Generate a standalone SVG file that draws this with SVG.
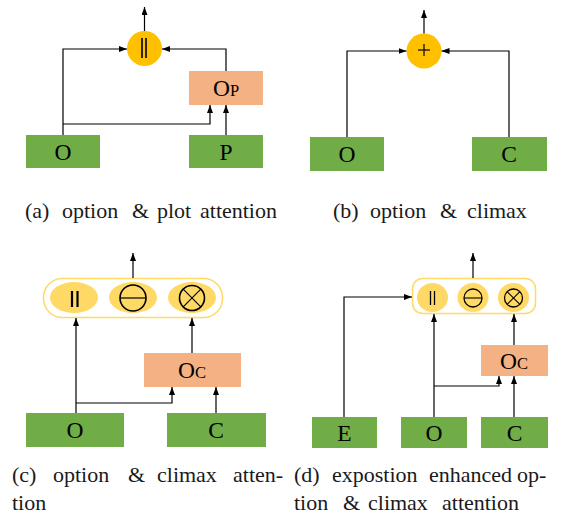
<svg xmlns="http://www.w3.org/2000/svg" width="563" height="514" viewBox="0 0 563 514">
<style>
.g{fill:#70AD47}
.o{fill:#F4B183}
.c{fill:#FFC000}
.e{fill:#FFD966}
.frame{fill:#fff;stroke:#FFD966;stroke-width:1.5}
.lbl{font-family:"Liberation Serif","Times New Roman",serif;font-size:23.5px;fill:#000;text-anchor:middle}
.sub{font-size:16.5px}
.cap{font-family:"Liberation Serif","Times New Roman",serif;font-size:22px;fill:#1a1a1a}
.ln{fill:none;stroke:#000;stroke-width:1.2}
.sym{fill:none;stroke:#000;stroke-width:1.6}
.bar{stroke:#000;stroke-width:2.2}
</style>
<defs>
<marker id="ah" viewBox="0 0 8 6" refX="8" refY="3" markerWidth="8" markerHeight="6" orient="auto" markerUnits="userSpaceOnUse">
<path d="M0,0 L8,3 L0,6 z" fill="#000"/>
</marker>
</defs>

<!-- Panel (a) -->
<g id="a-concat"><circle class="c" cx="144.5" cy="48.5" r="17.5"/><line class="bar" x1="142" y1="38" x2="142" y2="58" style="stroke-width:1.6"/><line class="bar" x1="146" y1="38" x2="146" y2="58" style="stroke-width:1.6"/></g>
<g id="a-Op"><rect class="o" x="189" y="71" width="74" height="34"/><text class="lbl" x="226" y="96">O<tspan class="sub">P</tspan></text></g>
<g id="a-O"><rect class="g" x="26" y="135" width="74" height="33"/><text class="lbl" x="63" y="160">O</text></g>
<g id="a-P"><rect class="g" x="189" y="135" width="74" height="33"/><text class="lbl" x="226" y="160">P</text></g>

<!-- Panel (b) -->
<g id="b-plus"><circle class="c" cx="424" cy="51" r="17.5"/><line class="sym" x1="418" y1="50" x2="430" y2="50" style="stroke-width:1.2"/><line class="sym" x1="424" y1="44" x2="424" y2="56" style="stroke-width:1.2"/></g>
<g id="b-O"><rect class="g" x="310" y="137" width="74" height="34"/><text class="lbl" x="347" y="162">O</text></g>
<g id="b-C"><rect class="g" x="472" y="137" width="75" height="34"/><text class="lbl" x="509" y="162">C</text></g>

<!-- Panel (c) -->
<g id="c-ops">
<rect class="frame" x="43.5" y="278.5" width="179" height="39" rx="19"/>
<ellipse class="e" cx="74" cy="297.5" rx="24" ry="15.5"/>
<line class="bar" x1="72" y1="291" x2="72" y2="307"/><line class="bar" x1="77.5" y1="291" x2="77.5" y2="307"/>
<ellipse class="e" cx="133" cy="297.5" rx="24" ry="15.5"/>
<circle class="sym" cx="133" cy="298" r="13"/><line class="sym" x1="120" y1="298" x2="146" y2="298" style="stroke-width:1.2"/>
<ellipse class="e" cx="192" cy="297.5" rx="24" ry="15.5"/>
<circle class="sym" cx="192" cy="298" r="12.5"/><line class="sym" x1="183.2" y1="289.2" x2="200.8" y2="306.8" style="stroke-width:1.1"/><line class="sym" x1="200.8" y1="289.2" x2="183.2" y2="306.8" style="stroke-width:1.1"/>
</g>
<g id="c-Oc"><rect class="o" x="144" y="353" width="97" height="34"/><text class="lbl" x="192" y="378">O<tspan class="sub">C</tspan></text></g>
<g id="c-O"><rect class="g" x="26" y="413" width="98" height="34"/><text class="lbl" x="75" y="438">O</text></g>
<g id="c-C"><rect class="g" x="167" y="413" width="99" height="34"/><text class="lbl" x="216" y="438">C</text></g>

<!-- Panel (d) -->
<g id="d-ops">
<rect class="frame" x="412.5" y="278.5" width="123" height="35" rx="10"/>
<ellipse class="e" cx="432.5" cy="297.5" rx="15.5" ry="14.5"/>
<line class="sym" x1="430.5" y1="291" x2="430.5" y2="305" style="stroke-width:1.3"/><line class="sym" x1="434.5" y1="291" x2="434.5" y2="305" style="stroke-width:1.3"/>
<ellipse class="e" cx="473" cy="297.5" rx="15.5" ry="14.5"/>
<circle class="sym" cx="473" cy="298" r="9" style="stroke-width:1.3"/><line class="sym" x1="464" y1="298" x2="482" y2="298" style="stroke-width:1.1"/>
<ellipse class="e" cx="513.5" cy="297.5" rx="15.5" ry="14.5"/>
<circle class="sym" cx="513.5" cy="298" r="9" style="stroke-width:1.3"/><line class="sym" x1="507.1" y1="291.6" x2="519.9" y2="304.4" style="stroke-width:1.1"/><line class="sym" x1="519.9" y1="291.6" x2="507.1" y2="304.4" style="stroke-width:1.1"/>
</g>
<g id="d-Oc"><rect class="o" x="481" y="345" width="67" height="31"/><text class="lbl" x="514" y="369">O<tspan class="sub">C</tspan></text></g>
<g id="d-E"><rect class="g" x="312" y="417" width="65" height="31"/><text class="lbl" x="344.5" y="441">E</text></g>
<g id="d-O"><rect class="g" x="401" y="417" width="66" height="31"/><text class="lbl" x="434" y="441">O</text></g>
<g id="d-C"><rect class="g" x="481" y="417" width="67" height="31"/><text class="lbl" x="514.5" y="441">C</text></g>

<!-- Connectors -->
<g id="connectors">
<polyline class="ln" points="63,135 63,49 127,49" marker-end="url(#ah)"/>
<polyline class="ln" points="226,71 226,49 162,49" marker-end="url(#ah)"/>
<line class="ln" x1="144.5" y1="31" x2="144.5" y2="7" marker-end="url(#ah)"/>
<polyline class="ln" points="63,124 210,124 210,105" marker-end="url(#ah)"/>
<line class="ln" x1="226" y1="135" x2="226" y2="105" marker-end="url(#ah)"/>

<polyline class="ln" points="347,137 347,51 406.5,51" marker-end="url(#ah)"/>
<polyline class="ln" points="509,137 509,51 441.5,51" marker-end="url(#ah)"/>
<line class="ln" x1="424" y1="33.5" x2="424" y2="10" marker-end="url(#ah)"/>

<line class="ln" x1="133" y1="278" x2="133" y2="253" marker-end="url(#ah)"/>
<line class="ln" x1="76" y1="413" x2="76" y2="318" marker-end="url(#ah)"/>
<polyline class="ln" points="76,403 172,403 172,387" marker-end="url(#ah)"/>
<line class="ln" x1="216" y1="413" x2="216" y2="387" marker-end="url(#ah)"/>
<line class="ln" x1="192" y1="353" x2="192" y2="318" marker-end="url(#ah)"/>

<line class="ln" x1="473" y1="278" x2="473" y2="253" marker-end="url(#ah)"/>
<polyline class="ln" points="344,417 344,297 412,297" marker-end="url(#ah)"/>
<line class="ln" x1="434" y1="417" x2="434" y2="314" marker-end="url(#ah)"/>
<polyline class="ln" points="434,386 499,386 499,376" marker-end="url(#ah)"/>
<line class="ln" x1="514" y1="417" x2="514" y2="376" marker-end="url(#ah)"/>
<line class="ln" x1="514" y1="345" x2="514" y2="314" marker-end="url(#ah)"/>
</g>

<!-- Captions -->
<text class="cap" y="218"><tspan x="25">(a)</tspan><tspan x="62">option</tspan><tspan x="132">&amp;</tspan><tspan x="157">plot</tspan><tspan x="200">attention</tspan></text>
<text class="cap" y="218"><tspan x="333">(b)</tspan><tspan x="370">option</tspan><tspan x="440">&amp;</tspan><tspan x="467">climax</tspan></text>
<text class="cap" y="482"><tspan x="12">(c)</tspan><tspan x="53">option</tspan><tspan x="128">&amp;</tspan><tspan x="157">climax</tspan><tspan x="233">atten-</tspan></text>
<text class="cap" y="510"><tspan x="12">tion</tspan></text>
<text class="cap" y="482"><tspan x="294">(d)</tspan><tspan x="332">expostion</tspan><tspan x="429">enhanced</tspan><tspan x="517">op-</tspan></text>
<text class="cap" y="510"><tspan x="294">tion</tspan><tspan x="343">&amp;</tspan><tspan x="368">climax</tspan><tspan x="442">attention</tspan></text>
</svg>
